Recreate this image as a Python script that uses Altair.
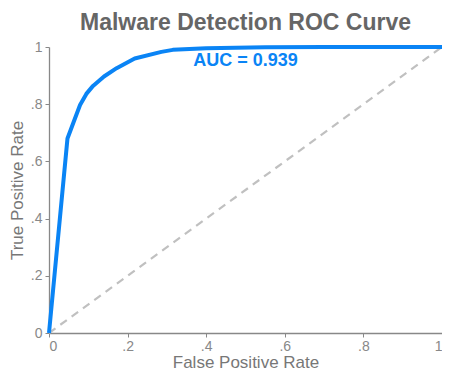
import altair as alt
import pandas as pd

fpr = [0.0, 0.047, 0.062, 0.079, 0.095, 0.112, 0.14, 0.172, 0.218, 0.286, 0.315, 0.40, 0.55, 0.70, 1.0]
tpr = [0.0, 0.680, 0.735, 0.797, 0.836, 0.864, 0.897, 0.926, 0.960, 0.983, 0.990, 0.996, 0.999, 1.0, 1.0]
diag_x = [0.0, 1.0]
diag_y = [0.0, 1.0]
auc_label = ["AUC = 0.939"]
auc_pos = [0.5, 0.95]
tick_values = [0, 0.2, 0.4, 0.6, 0.8, 1]

roc = pd.DataFrame({"fpr": fpr, "tpr": tpr})
diag = pd.DataFrame({"fpr": diag_x, "tpr": diag_y})
ann = pd.DataFrame({"fpr": [auc_pos[0]], "tpr": [auc_pos[1]], "text": auc_label})

label_expr = "datum.value == 0 ? '0' : datum.value == 1 ? '1' : replace(format(datum.value, '.1f'), '0.', '.')"

xs = alt.Scale(domain=[0, 1], nice=False, zero=False)
ys = alt.Scale(domain=[0, 1], nice=False, zero=False)

x_enc = alt.X("fpr:Q", scale=xs, axis=alt.Axis(
    title="False Positive Rate", values=tick_values, labelExpr=label_expr,
    grid=False, tickSize=4, labelPadding=2, titlePadding=1))
y_enc = alt.Y("tpr:Q", scale=ys, axis=alt.Axis(
    title="True Positive Rate", values=tick_values, labelExpr=label_expr,
    grid=False, tickSize=4, labelPadding=3, titlePadding=4))

diag_layer = alt.Chart(diag).mark_line(color="#c0c0c0", strokeWidth=2.2, strokeDash=[8, 6]).encode(
    x=x_enc, y=y_enc)
roc_layer = alt.Chart(roc).mark_line(color="#0a84f5", strokeWidth=4, interpolate="linear",
                                     strokeJoin="round").encode(
    x="fpr:Q", y="tpr:Q")
text_layer = alt.Chart(ann).mark_text(color="#0a84f5", fontSize=18, fontWeight="bold",
                                      font="Liberation Sans").encode(
    x="fpr:Q", y="tpr:Q", text="text:N")

chart = alt.layer(diag_layer, roc_layer, text_layer).properties(
    width=393, height=286,
    title=alt.TitleParams("Malware Detection ROC Curve", fontSize=23, fontWeight="bold",
                          color="#666666", font="Liberation Sans", offset=5),
    autosize=alt.AutoSizeParams(type="none"),
    padding={"left": 41, "top": 39, "right": 0, "bottom": 39},
).configure_view(stroke=None).configure_axis(
    domainColor="#888888", tickColor="#888888", labelColor="#888888", titleColor="#777777",
    labelFont="Liberation Sans", titleFont="Liberation Sans", labelFontSize=14,
    titleFontSize=17, titleFontWeight="normal", domainWidth=1.3
).configure_title(anchor="middle")

chart.save("out.html", embed_options={"renderer": "svg", "actions": False})
